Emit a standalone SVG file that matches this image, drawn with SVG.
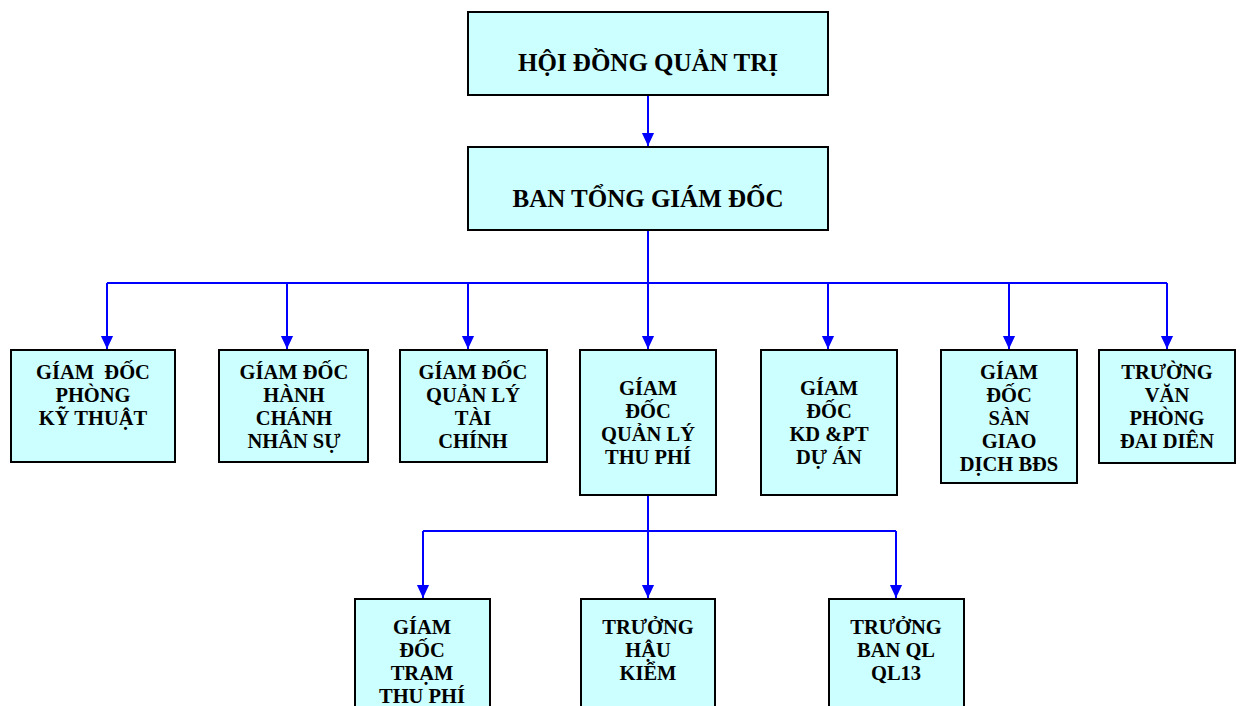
<svg xmlns="http://www.w3.org/2000/svg" width="1240" height="706" viewBox="0 0 1240 706">
<style>
.box{fill:#CCFFFF;stroke:#000;stroke-width:2}
.t{font-family:"Liberation Serif","Times New Roman",serif;font-weight:bold;font-size:20.5px;fill:#000;text-anchor:middle}
.big{font-size:25px}
.c{stroke:#0000FF;stroke-width:2;fill:none}
</style>
<defs>
<marker id="a" markerUnits="userSpaceOnUse" markerWidth="14" markerHeight="16" refX="15" refY="7" orient="auto" viewBox="0 0 16 14">
<path d="M0,0 L15,7 L0,14 Z" fill="#0000FF"/>
</marker>
</defs>
<rect width="1240" height="706" fill="#fff"/>
<g id="connectors">
<line class="c" x1="648" y1="95" x2="648" y2="146" marker-end="url(#a)"/>
<line class="c" x1="648" y1="230" x2="648" y2="349" marker-end="url(#a)"/>
<polyline class="c" points="107,283 1167,283"/>
<line class="c" x1="107" y1="283" x2="107" y2="349" marker-end="url(#a)"/>
<line class="c" x1="287" y1="283" x2="287" y2="349" marker-end="url(#a)"/>
<line class="c" x1="468" y1="283" x2="468" y2="349" marker-end="url(#a)"/>
<line class="c" x1="828" y1="283" x2="828" y2="349" marker-end="url(#a)"/>
<line class="c" x1="1009" y1="283" x2="1009" y2="349" marker-end="url(#a)"/>
<line class="c" x1="1167" y1="283" x2="1167" y2="349" marker-end="url(#a)"/>
<line class="c" x1="648" y1="496" x2="648" y2="598" marker-end="url(#a)"/>
<polyline class="c" points="423,531 896,531"/>
<line class="c" x1="423" y1="531" x2="423" y2="598" marker-end="url(#a)"/>
<line class="c" x1="896" y1="531" x2="896" y2="598" marker-end="url(#a)"/>
</g>
<g id="hdqt"><rect class="box" x="468" y="12" width="360" height="83"/><text class="t big" x="648" y="71">HỘI ĐỒNG QUẢN TRỊ</text></g>
<g id="btgd"><rect class="box" x="468" y="147" width="360" height="83"/><text class="t big" x="648" y="207">BAN TỔNG GIÁM ĐỐC</text></g>
<g id="n1"><rect class="box" x="11" y="350" width="164" height="112"/><text class="t" x="93" y="379" xml:space="preserve">GÍAM  ĐỐC</text><text class="t" x="93" y="402">PHÒNG</text><text class="t" x="93" y="425">KỸ THUẬT</text></g>
<g id="n2"><rect class="box" x="219" y="350" width="149" height="112"/><text class="t" x="294" y="379">GÍAM ĐỐC</text><text class="t" x="294" y="402">HÀNH</text><text class="t" x="294" y="425">CHÁNH</text><text class="t" x="294" y="448">NHÂN SỰ</text></g>
<g id="n3"><rect class="box" x="400" y="350" width="147" height="112"/><text class="t" x="473" y="379">GÍAM ĐỐC</text><text class="t" x="473" y="402">QUẢN LÝ</text><text class="t" x="473" y="425">TÀI</text><text class="t" x="473" y="448">CHÍNH</text></g>
<g id="n4"><rect class="box" x="580" y="350" width="136" height="145"/><text class="t" x="648" y="395">GÍAM</text><text class="t" x="648" y="418">ĐỐC</text><text class="t" x="648" y="441">QUẢN LÝ</text><text class="t" x="648" y="464">THU PHÍ</text></g>
<g id="n5"><rect class="box" x="761" y="350" width="136" height="145"/><text class="t" x="829" y="395">GÍAM</text><text class="t" x="829" y="418">ĐỐC</text><text class="t" x="829" y="441">KD &amp;PT</text><text class="t" x="829" y="464">DỰ ÁN</text></g>
<g id="n6"><rect class="box" x="941" y="350" width="136" height="133"/><text class="t" x="1009" y="379">GÍAM</text><text class="t" x="1009" y="402">ĐỐC</text><text class="t" x="1009" y="425">SÀN</text><text class="t" x="1009" y="448">GIAO</text><text class="t" x="1009" y="471">DỊCH BĐS</text></g>
<g id="n7"><rect class="box" x="1099" y="350" width="136" height="113"/><text class="t" x="1167" y="379">TRƯỜNG</text><text class="t" x="1167" y="402">VĂN</text><text class="t" x="1167" y="425">PHÒNG</text><text class="t" x="1167" y="448">ĐAI DIÊN</text></g>
<g id="m1"><rect class="box" x="355" y="599" width="135" height="120"/><text class="t" x="422" y="634">GÍAM</text><text class="t" x="422" y="657">ĐỐC</text><text class="t" x="422" y="680">TRẠM</text><text class="t" x="422" y="703">THU PHÍ</text></g>
<g id="m2"><rect class="box" x="581" y="599" width="134" height="120"/><text class="t" x="648" y="634">TRƯỞNG</text><text class="t" x="648" y="657">HẬU</text><text class="t" x="648" y="680">KIỂM</text></g>
<g id="m3"><rect class="box" x="829" y="599" width="135" height="120"/><text class="t" x="896" y="634">TRƯỞNG</text><text class="t" x="896" y="657">BAN QL</text><text class="t" x="896" y="680">QL13</text></g>
</svg>
